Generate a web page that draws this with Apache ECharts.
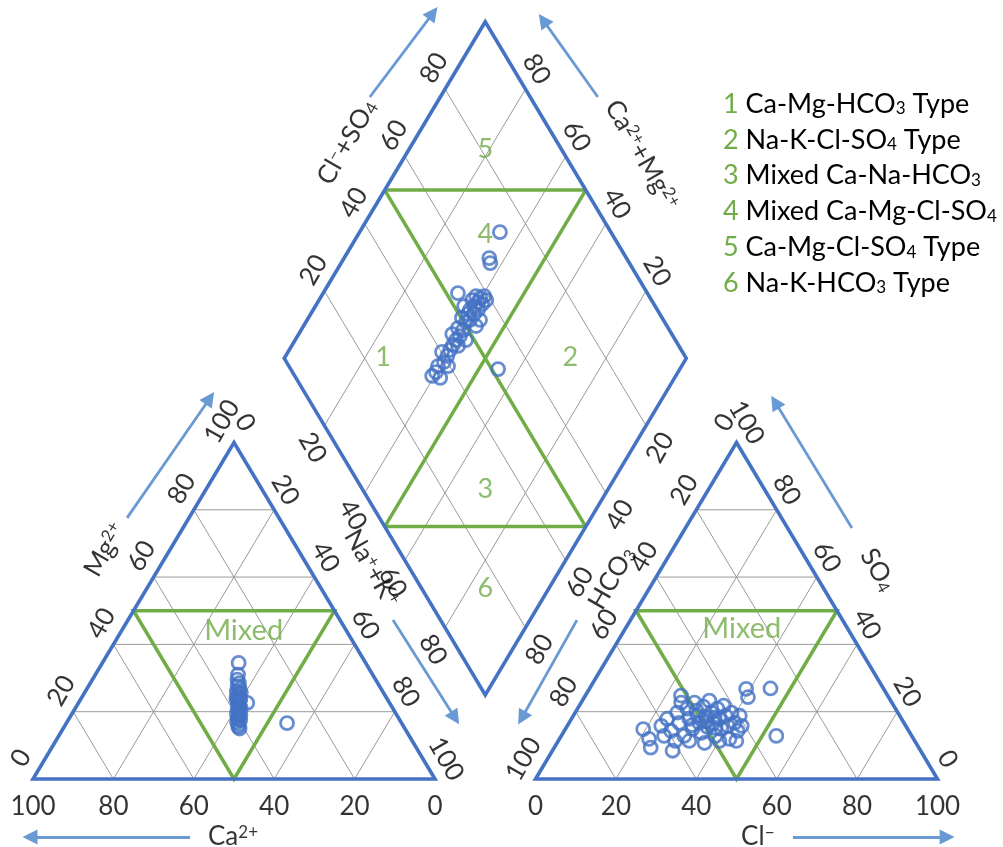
<!DOCTYPE html>
<html><head><meta charset="utf-8">
<script src="https://cdn.jsdelivr.net/npm/echarts@6/dist/echarts.min.js"></script>
<style>html,body{margin:0;padding:0;background:#fff}#c{width:1003px;height:847px}</style>
</head><body><div id="c"></div>
<script>
// ---------------- DATA (percent values) ----------------
const tickValues = [0, 20, 40, 60, 80, 100];
const diamondTicks = [20, 40, 60, 80];

// Cation triangle: Mg2+ % and Na+ + K+ %
const cationMg  = [34.5, 31.0, 29.5, 28.5, 27.6, 26.8, 26.0, 25.2, 24.5, 23.8, 23.0, 22.6, 22.2, 21.5, 20.8, 20.1, 19.4, 18.8, 18.1, 17.5, 16.9, 16.2, 15.5, 15.0, 24.0, 19.0, 21.0, 25.6, 17.8, 23.4, 16.6];
const cationNaK = [33.9, 35.5, 36.1, 37.0, 37.1, 38.0, 37.7, 38.6, 38.6, 39.6, 39.3, 42.0, 40.0, 40.6, 40.5, 41.3, 41.0, 41.8, 41.9, 42.8, 42.3, 43.1, 43.3, 43.9, 38.6, 42.1, 41.2, 38.9, 42.1, 39.8, 54.9];

// Anion triangle: SO4 % and Cl- %
const anionSO4 = [15.8, 17.9, 14.3, 19.7, 16.7, 12.8, 20.9, 17.9, 14.9, 22.7, 18.8, 16.7, 13.7, 21.5, 18.5, 15.5, 23.3, 19.7, 16.7, 12.8, 20.9, 17.9, 14.9, 21.8, 18.8, 15.8, 11.9, 19.7, 16.7, 14.3, 18.8, 15.8, 11.3, 10.7, 11.3, 12.8, 11.3, 20.3, 14.8, 9.3, 11.9, 8.4, 24.8, 22.7, 26.8, 24.3, 26.9, 12.8, 11.3, 17.2, 16.0, 18.2, 15.2];
const anionCl  = [23.4, 23.8, 26.6, 25.4, 27.4, 30.6, 27.3, 29.3, 31.6, 28.2, 30.9, 32.4, 34.4, 31.0, 33.0, 35.0, 31.6, 33.9, 35.9, 38.4, 34.8, 36.8, 38.8, 35.9, 37.9, 39.9, 42.3, 38.9, 41.2, 43.1, 41.4, 43.4, 32.6, 36.7, 29.1, 25.6, 40.1, 29.9, 19.4, 24.0, 22.3, 29.9, 23.8, 24.9, 39.0, 40.7, 45.0, 53.5, 44.3, 34.0, 31.0, 35.5, 37.2];

// Diamond: Na+ + K+ % and Cl- + SO4 %
const diamondNaK   = [39.4, 39.8, 41.7, 39.4, 40.3, 40.2, 40.0, 38.3, 40.0, 40.0, 38.2, 40.4, 38.7, 40.3, 39.8, 38.2, 39.1, 39.0, 39.5, 38.1, 39.9, 38.5, 39.8, 41.2, 40.5, 41.0, 41.6, 40.5, 40.6, 42.5, 41.4, 41.9, 33.5, 34.9, 36.1, 37.1, 54.8, 43.0, 42.9, 37.0];
const diamondClSO4 = [34.2, 35.7, 35.9, 37.1, 39.2, 40.9, 42.5, 40.2, 44.0, 45.4, 45.4, 47.0, 47.7, 48.7, 50.6, 50.2, 52.3, 53.4, 55.0, 55.4, 56.6, 57.0, 57.7, 57.3, 59.0, 55.4, 58.9, 51.9, 53.8, 47.9, 45.1, 39.6, 52.9, 72.4, 65.9, 65.4, 51.6, 54.4, 52.5, 52.5];

const zoneNumbers = ['1', '2', '3', '4', '5', '6'];
const zoneNames = ['Ca-Mg-HCO₃ Type', 'Na-K-Cl-SO₄ Type', 'Mixed Ca-Na-HCO₃', 'Mixed Ca-Mg-Cl-SO₄', 'Ca-Mg-Cl-SO₄ Type', 'Na-K-HCO₃ Type'];
// zone label locations inside the diamond (Na+K %, Cl+SO4 %)
const zoneNaK   = [24.4, 71.0, 69.5, 31.6, 19.0, 84.2];
const zoneClSO4 = [24.8, 71.3, 30.5, 68.4, 81.0, 15.9];
const mixedText = 'Mixed';
const axisTitles = ['Ca²⁺', 'Cl⁻', 'Mg²⁺', 'Na⁺+K⁺', 'SO₄', 'HCO₃', 'Cl⁻+SO₄', 'Ca²⁺+Mg²⁺'];

// ---------------- GEOMETRY ----------------
const H = Math.sqrt(3) / 2;
const GAP = 25;
const AX0 = 100 + GAP;
const DX = 100 + GAP / 2;
const DB = GAP * H;
function cat(mg, nak) { return [nak + mg / 2, mg * H]; }
function an(so4, cl) { return [AX0 + cl + so4 / 2, so4 * H]; }
function dia(nak, clso4) { return [DX - 50 + 0.5 * (clso4 + nak), DB + H * (clso4 + 100 - nak)]; }

// layout of decorations (axis-title positions and arrows, chart units)
const titleLayout = [
  { pos: [49.75, -14.9], rot: 0 }, { pos: [180.3, -14.9], rot: 0 },
  { pos: [17.9, 59.0], rot: 60 }, { pos: [84.3, 54.3], rot: -60 },
  { pos: [210.2, 53.8], rot: -60 }, { pos: [144.0, 51.7], rot: 60 },
  { pos: [78.1, 163.9], rot: 60 }, { pos: [151.5, 160.6], rot: -60 }
];
const arrowLayout = [
  [[39.05, -14.9], [-0.75, -14.9]], [[189.05, -14.9], [227.4, -14.9]],
  [[23.4, 67.2], [44.0, 98.0]], [[89.55, 40.9], [105.0, 15.7]],
  [[203.7, 64.6], [184.6, 97.0]], [[135.3, 40.9], [121.6, 15.7]],
  [[83.8, 175.5], [99.5, 197.1]], [[140.5, 175.5], [126.9, 195.3]]
];

const FONT = 'Lato, "Open Sans", sans-serif';
const BLUE = '#4472C4', GREEN = '#70AD47', GRAY = '#9A9A9A', ARROW = '#6A9AD4';
const TEXT = '#000';

const SUP = { '²': '2', '⁺': '+', '⁻': '−' };
const SUB = { '₃': '3', '₄': '4' };
function toRich(s) {
  let out = '', cur = null, buf = '';
  const flush = () => { if (buf) out += '{' + cur + '|' + buf + '}'; buf = ''; };
  for (const ch of s) {
    let t = 'n', c = ch;
    if (SUP[ch]) { t = 'p'; c = SUP[ch]; } else if (SUB[ch]) { t = 'b'; c = SUB[ch]; }
    if (t !== cur) { flush(); cur = t; }
    buf += c;
  }
  flush();
  return out;
}
// label offsets are applied in the rotated frame: convert a screen offset
function unrot(s, deg) {
  const t = deg * Math.PI / 180, c = Math.cos(t), sn = Math.sin(t);
  return [s[0] * c - s[1] * sn, s[0] * sn + s[1] * c];
}

// ---------------- LINE WORK ----------------
const gridSegs = [];
[20, 40, 60, 80].forEach(k => {
  gridSegs.push([cat(k, 0), cat(k, 100 - k)]);
  gridSegs.push([cat(0, k), cat(100 - k, k)]);
  gridSegs.push([cat(0, 100 - k), cat(100 - k, 0)]);
  gridSegs.push([an(k, 0), an(k, 100 - k)]);
  gridSegs.push([an(0, k), an(100 - k, k)]);
  gridSegs.push([an(0, 100 - k), an(100 - k, 0)]);
  gridSegs.push([dia(0, k), dia(100, k)]);
  gridSegs.push([dia(k, 0), dia(k, 100)]);
});
const outlineSegs = [
  [cat(0, 0), cat(0, 100), cat(100, 0), cat(0, 0), cat(0, 100)],
  [an(0, 0), an(0, 100), an(100, 0), an(0, 0), an(0, 100)],
  [dia(0, 0), dia(0, 100), dia(100, 100), dia(100, 0), dia(0, 0), dia(0, 100)]
];
const greenSegs = [
  [cat(50, 0), cat(50, 50), cat(0, 50), cat(50, 0), cat(50, 50)],
  [an(50, 0), an(50, 50), an(0, 50), an(50, 0), an(50, 50)],
  [dia(0, 50), dia(50, 100)],
  [dia(0, 50), dia(100, 50)],
  [dia(50, 100), dia(50, 0)],
  [dia(50, 0), dia(100, 50)]
];
function linesSeries(segs, color, width, z) {
  return { type: 'lines', coordinateSystem: 'cartesian2d', polyline: true, silent: true, clip: false, z: z,
    animation: false, lineStyle: { color: color, width: width, opacity: 1, join: 'miter' },
    data: segs.map(c => ({ coords: c })) };
}

function labelSeries(items, opt) {
  return {
    type: 'scatter', symbol: 'circle', symbolSize: 1, silent: true, clip: false, z: opt.z || 10, animation: false,
    itemStyle: { color: 'rgba(0,0,0,0)' },
    data: items.map(it => ({ value: it.pos, name: String(it.text) })),
    label: Object.assign({ show: true, position: 'inside', formatter: '{b}', color: TEXT,
      fontSize: 26, fontFamily: FONT }, opt.label)
  };
}

const tickSets = [
  { items: tickValues.map(v => ({ pos: cat(0, 100 - v), text: v })), rot: 0, off: [0, 28] },
  { items: tickValues.map(v => ({ pos: cat(v, 0), text: v })), rot: 60, off: [-12, -21] },
  { items: tickValues.map(v => ({ pos: cat(100 - v, v), text: v })), rot: -60, off: [11, -20] },
  { items: tickValues.map(v => ({ pos: an(0, v), text: v })), rot: 0, off: [0, 28] },
  { items: tickValues.map(v => ({ pos: an(100 - v, 0), text: v })), rot: 60, off: [-12, -20] },
  { items: tickValues.map(v => ({ pos: an(v, 100 - v), text: v })), rot: -60, off: [10, -20] },
  { items: diamondTicks.map(v => ({ pos: dia(0, v), text: v })), rot: 60, off: [-11, -21] },
  { items: diamondTicks.map(v => ({ pos: dia(100 - v, 100), text: v })), rot: -60, off: [11, -20] },
  { items: diamondTicks.map(v => ({ pos: dia(v, 0), text: v })), rot: -60, off: [-12, 22] },
  { items: diamondTicks.map(v => ({ pos: dia(100, 100 - v), text: v })), rot: 60, off: [14, 22] }
];

const series = [];
series.push(linesSeries(gridSegs, GRAY, 1, 1));
series.push(linesSeries(greenSegs, GREEN, 3.5, 2));
series.push(linesSeries(outlineSegs, BLUE, 3.6, 3));
series.push({ type: 'lines', coordinateSystem: 'cartesian2d', silent: true, clip: false, z: 3, animation: false,
  symbol: ['none', 'triangle'], symbolSize: [0, 15],
  lineStyle: { color: ARROW, width: 2.8, opacity: 1 }, itemStyle: { color: ARROW },
  data: arrowLayout.map(c => ({ coords: c })) });

tickSets.forEach(ts => series.push(labelSeries(ts.items, { label: { rotate: ts.rot, offset: unrot(ts.off, ts.rot) } })));

// axis titles
axisTitles.forEach((t, i) => series.push(labelSeries([{ pos: titleLayout[i].pos, text: t }], {
  label: { rotate: titleLayout[i].rot, formatter: () => toRich(t),
    rich: { n: { fontSize: 26, fontFamily: FONT, color: TEXT },
            p: { fontSize: 17, fontFamily: FONT, color: TEXT, verticalAlign: 'top' },
            b: { fontSize: 17, fontFamily: FONT, color: TEXT, verticalAlign: 'bottom' } } }
})));

// zone numbers in the diamond
series.push(labelSeries(zoneNumbers.map((n, i) => ({ pos: dia(zoneNaK[i], zoneClSO4[i]), text: n })),
  { label: { color: GREEN, fontSize: 27 } }));
// Mixed labels
series.push(labelSeries([{ pos: cat(44.2, 30.3), text: mixedText }, { pos: an(44.6, 29.0), text: mixedText }],
  { label: { color: GREEN, fontSize: 29 } }));

const circleStyle = { color: 'rgba(0,0,0,0)', borderColor: BLUE, borderWidth: 2.8 };
function pts(a, b, f) { return a.map((v, i) => f(v, b[i])); }
[pts(cationMg, cationNaK, cat), pts(anionSO4, anionCl, an), pts(diamondNaK, diamondClSO4, dia)].forEach(d => {
  series.push({ type: 'scatter', symbol: 'circle', symbolSize: 13, clip: false, z: 20, animation: false,
    itemStyle: circleStyle, data: d });
});

const legendRich = {
  g: { fill: GREEN, fontSize: 27, fontFamily: FONT },
  n: { fill: TEXT, fontSize: 27, fontFamily: FONT },
  p: { fill: TEXT, fontSize: 17, fontFamily: FONT, verticalAlign: 'top' },
  b: { fill: TEXT, fontSize: 17, fontFamily: FONT, verticalAlign: 'bottom' }
};

const chart = echarts.init(document.getElementById('c'), null, { renderer: 'canvas' });
chart.setOption({
  backgroundColor: '#fff',
  animation: false,
  grid: { left: 33, right: 5.2, top: 1.8, bottom: 68 },
  xAxis: { type: 'value', min: 0, max: 240, show: false },
  yAxis: { type: 'value', min: 0, max: 200, show: false },
  series: series,
  graphic: zoneNames.map((nm, i) => ({
    type: 'text', x: 723, y: 104 + i * 35.8, silent: true, z: 30,
    style: { text: '{g|' + zoneNumbers[i] + '}{n| }' + toRich(nm), rich: legendRich,
      fill: TEXT, fontSize: 27, fontFamily: FONT, verticalAlign: 'middle' }
  }))
});
</script></body></html>
